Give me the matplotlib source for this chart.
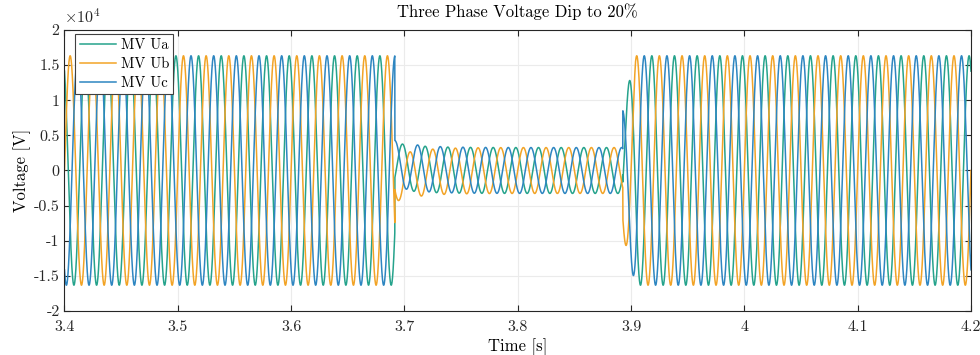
import numpy as np
import matplotlib.pyplot as plt

# values
phases = ['MV Ua', 'MV Ub', 'MV Uc']
phase_deg = [120, 0, -120]
colors = ['#26a38c', '#f2a427', '#2e86c1']
u_peak = 16330.0          # V
f_grid = 50.0             # Hz
t_start, t_end = 3.4, 4.2

# amplitude envelope (per unit) around the dip
env_t = [3.4, 3.6915, 3.6915, 3.8927, 3.8927, 3.904, 4.2]
env_pu = [1.0, 1.0, 0.2, 0.2, 0.55, 1.0, 1.0]

# decaying offsets right after the dip starts
dip_offset = [700.0, -1200.0, 1000.0]   # V
offset_tau = 0.02                        # s

xticks = [3.4, 3.5, 3.6, 3.7, 3.8, 3.9, 4.0, 4.1, 4.2]
yticks = [-20000, -15000, -10000, -5000, 0, 5000, 10000, 15000, 20000]

plt.rcParams['font.family'] = 'cmr10'
plt.rcParams['mathtext.fontset'] = 'cm'
plt.rcParams['axes.unicode_minus'] = False
plt.rcParams['axes.formatter.use_mathtext'] = True

t = np.arange(t_start, t_end + 1e-9, 5e-5)
env = np.interp(t, env_t, env_pu)
t_fault = env_t[1]
t_clear = env_t[3]
theta = 2 * np.pi * f_grid * (t - t_start)

fig = plt.figure(figsize=(9.8, 3.55), dpi=100)
ax = fig.add_axes([0.0658, 0.124, 0.925, 0.7915])

for name, ph, c, off in zip(phases, phase_deg, colors, dip_offset):
    v = u_peak * env * np.sin(theta + np.deg2rad(ph))
    in_dip = (t >= t_fault) & (t < t_clear)
    v[in_dip] += off * np.exp(-(t[in_dip] - t_fault) / offset_tau)
    ax.plot(t, v, color=c, lw=1.1, label=name)

ax.set_xlim(t_start, t_end)
ax.set_ylim(-20000, 20000)
ax.set_xticks(xticks)
ax.set_yticks(yticks)
ax.set_xticklabels(['%g' % x for x in xticks])
ax.set_yticklabels(['%g' % (y / 1e4) for y in yticks])
ax.tick_params(direction='in', top=True, right=True, labelsize=11.5,
               colors='#262626', length=4)
ax.tick_params(axis='x', pad=7)
ax.grid(True, color='#ebebeb', lw=0.8)
for s in ax.spines.values():
    s.set_color('#262626')
    s.set_linewidth(0.8)

ax.text(0.0, 1.015, r'$\times10^4$', transform=ax.transAxes, fontsize=11.5,
        color='#262626', va='bottom', ha='left')
ax.set_title('Three Phase Voltage Dip to 20%', fontsize=12, pad=9)
ax.set_xlabel('Time [s]', fontsize=12, labelpad=3)
ax.set_ylabel('Voltage [V]', fontsize=12, labelpad=2)

leg = ax.legend(loc='upper left', fontsize=10.5, handlelength=2.5,
                borderpad=0.3, labelspacing=0.35, handletextpad=0.3,
                fancybox=False, framealpha=1, edgecolor='#404040',
                bbox_to_anchor=(0.012, 0.985), borderaxespad=0.0)
leg.get_frame().set_linewidth(0.8)

fig.savefig('out.png', dpi=100)
plt.close(fig)
